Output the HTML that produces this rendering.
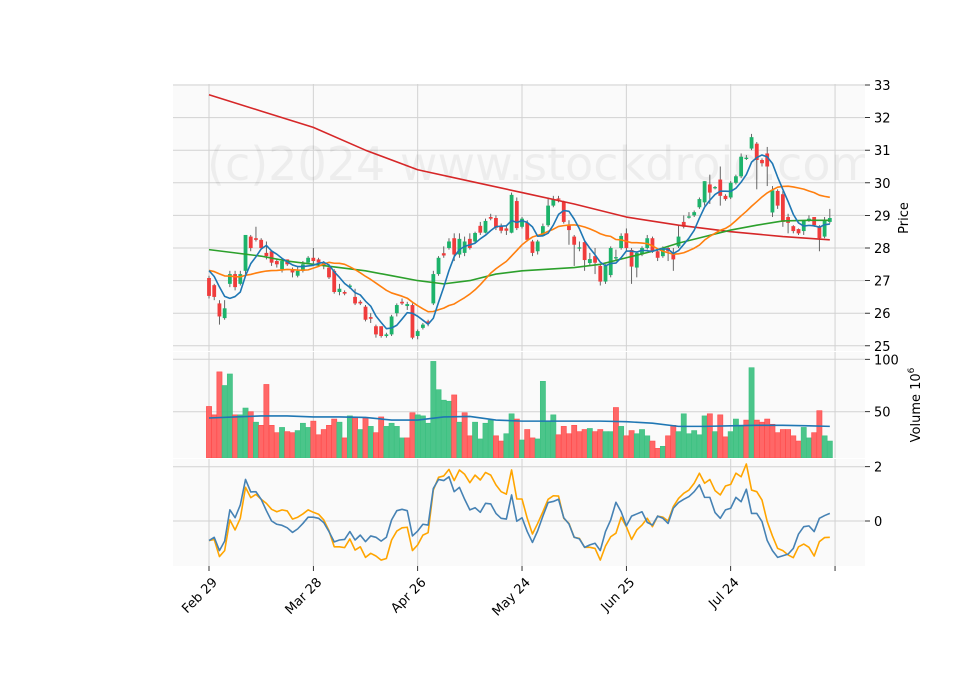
<!DOCTYPE html>
<html><head><meta charset="utf-8"><style>
html,body{margin:0;padding:0;background:#fff;}
svg{display:block;font-family:"DejaVu Sans","Liberation Sans",sans-serif;}
</style></head><body>
<svg id="chart" width="960" height="690" viewBox="0 0 960 690" xmlns="http://www.w3.org/2000/svg">
<defs><clipPath id="pclip"><rect x="173" y="84" width="692" height="267"/></clipPath>
<clipPath id="vclip"><rect x="173" y="352" width="692" height="106"/></clipPath>
<clipPath id="oclip"><rect x="173" y="459" width="692" height="107"/></clipPath></defs>
<rect x="173" y="84" width="692" height="267" fill="#fafafa"/>
<rect x="173" y="352" width="692" height="106" fill="#fafafa"/>
<rect x="173" y="459" width="692" height="107" fill="#fafafa"/>
<g id="grid"></g>
<text x="207" y="180" font-size="46" fill="#000" fill-opacity="0.05" clip-path="url(#pclip)">(c)2024 www.stockdroid.com</text>
<g id="marks"></g>
<g id="axes"></g>
<text transform="translate(908,218) rotate(-90)" text-anchor="middle" font-size="13">Price</text>
<text transform="translate(920,405) rotate(-90)" text-anchor="middle" font-size="13">Volume  10<tspan dy="-6" font-size="9">6</tspan></text>
</svg>
<script>
const dates = ["Feb 29","Mar 28","Apr 26","May 24","Jun 25","Jul 24",""];
const tickIdx = [0,20,40,60,80,100,120];
const priceTicks = [25,26,27,28,29,30,31,32,33];
const volTicks = [50,100];
const oscTicks = [0,2];
const opens = [27.08,26.86,26.3,25.85,26.9,27.2,26.9,27.3,28.35,28.3,28.25,27.85,27.9,27.6,27.35,27.65,27.35,27.15,27.3,27.55,27.7,27.65,27.55,27.4,27.3,26.65,26.65,26.8,26.5,26.35,26.2,25.88,25.6,25.6,25.3,25.35,26.0,26.35,26.22,26.25,25.3,
25.55,25.75,26.3,27.2,27.84,28.0,28.3,27.8,27.85,28.28,28.2,28.68,28.47,28.95,28.92,28.68,28.6,28.47,29.44,28.65,28.77,28.2,27.9,28.37,28.7,29.3,29.52,29.42,28.7,28.35,27.98,28.18,27.54,27.75,27.45,26.97,27.17,27.68,28.0,28.45,27.94,
27.4,27.8,28.0,28.3,27.9,27.75,28.0,27.85,28.05,28.8,28.93,29.0,29.25,29.4,29.95,29.83,30.1,29.6,29.55,30.0,30.2,30.73,31.05,31.2,30.7,30.9,29.09,29.75,29.65,28.95,28.67,28.58,28.52,28.86,28.95,28.67,28.35,28.8];
const closes = [26.53,26.5,25.9,26.15,27.2,26.8,27.2,28.4,28.0,28.25,28.0,27.75,27.55,27.5,27.6,27.5,27.25,27.3,27.5,27.7,27.6,27.55,27.45,27.1,26.65,26.75,26.6,26.85,26.3,26.3,25.8,25.83,25.35,25.3,25.35,25.9,26.25,26.3,26.28,25.25,25.45,
25.65,25.68,27.2,27.7,27.77,28.2,27.8,28.28,28.2,28.0,28.46,28.47,28.83,28.9,28.62,28.53,28.53,29.63,28.61,28.9,28.25,27.85,28.2,28.67,29.3,29.5,29.48,28.8,28.55,28.1,28.02,27.63,27.66,27.55,26.97,27.45,28.0,27.72,28.37,28.0,27.43,
27.85,28.0,28.3,27.9,27.7,28.0,27.9,27.65,28.35,28.65,28.97,29.1,29.5,30.05,29.7,29.87,29.6,29.5,30.0,30.2,30.8,30.77,31.4,30.7,30.6,30.5,29.77,29.3,28.8,28.77,28.52,28.45,28.83,28.9,28.7,28.3,28.85,28.92];
const highs = [27.15,26.9,26.4,26.4,27.3,27.3,27.3,28.4,28.4,28.65,28.3,28.2,27.9,27.65,27.7,27.65,27.4,27.45,27.6,27.75,28.0,27.7,27.6,27.5,27.35,26.9,26.7,26.9,26.75,26.4,26.25,26.0,25.65,25.6,25.4,25.95,26.3,26.45,26.35,26.3,25.5,
25.7,25.8,27.3,27.75,28.05,28.3,28.45,28.45,28.35,28.45,28.5,28.8,28.9,29.05,29.0,28.75,28.7,29.7,29.55,28.95,28.85,28.25,28.25,28.75,29.55,29.6,29.6,29.45,28.85,28.4,28.2,28.2,27.85,28.0,27.5,27.5,28.05,27.95,28.45,28.6,28.0,
27.9,28.05,28.4,28.35,27.95,28.05,28.05,28.0,28.7,29.0,29.1,29.15,29.55,30.05,30.25,29.9,30.5,29.65,30.05,30.25,30.9,30.85,31.5,31.25,30.75,31.1,29.9,29.8,29.75,29.05,28.7,28.6,28.85,29.0,28.95,28.7,28.95,29.2];
const lows = [26.45,26.4,25.65,25.8,26.8,26.7,26.85,27.2,27.9,28.2,27.95,27.65,27.45,27.4,27.25,27.45,27.1,27.1,27.25,27.5,27.5,27.45,27.35,27.05,26.6,26.55,26.55,26.75,26.25,26.25,25.75,25.7,25.25,25.25,25.25,25.3,25.9,26.25,26.1,25.2,25.2,
25.5,25.6,26.25,27.15,27.7,27.95,27.6,27.7,27.75,27.95,28.15,28.4,28.45,28.85,28.55,28.45,28.4,28.45,28.55,28.6,28.2,27.75,27.8,28.35,28.65,29.25,29.4,28.75,28.1,27.45,27.9,27.3,27.45,27.2,26.85,26.9,27.1,27.6,27.95,27.9,26.9,
27.1,27.75,27.95,27.85,27.6,27.7,27.6,27.3,28.0,28.6,28.9,28.95,29.2,29.3,29.35,29.8,29.3,29.45,29.5,29.95,30.15,30.7,31.0,29.8,30.5,29.9,28.95,29.2,28.65,28.45,28.45,28.4,28.4,28.8,28.65,27.9,28.3,28.75];
const priorCloses = [27.2,27.3,27.4,27.3,27.2,27.3,27.4,27.5,27.4,27.3,27.2,27.3,27.4,27.3,27.2,27.4,27.5,27.6,27.5];
const ma50Idx = [0,5,10,15,20,25,30,35,40,45,50,55,60,65,70,75,80,85,90,95,100,105,110,115,119];
const ma50 = [27.95,27.85,27.75,27.6,27.5,27.4,27.3,27.15,27.0,26.9,27.0,27.2,27.3,27.35,27.4,27.5,27.7,27.9,28.15,28.35,28.55,28.7,28.83,28.85,28.85];
const ma200Idx = [0,10,20,30,40,50,60,70,80,90,100,110,119];
const ma200 = [32.7,32.2,31.7,31.0,30.4,30.05,29.7,29.35,28.95,28.7,28.5,28.35,28.25];
const volumes = [55,47,88,75,86,47,47,53.5,50,40,37,76,37,30,35,31,30,32,39,35,41,28,33,37,43,40,25,46,45,33,44,36,30,45,36,39,36,25,25,49,47,46,39,98,71,61,60,66,40,49,27,40,24,39,42,27,22,29,48,43,
23,33,25,24,79,41,47,28,36,29,37,31,33,34,31,33,31,31,54,36,27,32,29,33,27,22,15,17,27,37,31,48,29,32,28,46,48,31,47,26,31,43,36,42,92,42,40,43,38,30,33,33,27,22,35,25,30,51,27,22];
const volMaIdx = [0,5,10,15,20,25,30,35,40,45,50,55,60,65,70,75,80,85,90,95,100,105,110,115,119];
const volMa = [44,45,46,46,45,45,44.5,42,42,45,45.5,42,41,41,41,41,40.5,39,36,36,36.5,37,37,36.5,36];
const oscBlue = [-0.72,-0.60,-1.09,-0.74,0.41,0.12,0.59,1.53,1.07,1.08,0.80,0.38,0,-0.12,-0.16,-0.25,-0.42,-0.29,-0.09,0.14,0.14,0.10,-0.06,-0.39,-0.77,-0.70,-0.68,-0.39,-0.70,-0.52,-0.76,-0.55,-0.60,-0.74,-0.60,0.04,0.38,0.43,0.38,-0.55,-0.37,-0.12,-0.15,1.20,1.53,1.49,1.63,1.08,1.24,0.80,0.41,0.49,0.32,0.65,0.63,0.28,0.10,0.07,0.96,-0.01,
0.12,-0.39,-0.79,-0.36,0.18,0.68,0.72,0.80,0.12,-0.11,-0.60,-0.66,-0.97,-0.88,-0.82,-1.09,-0.39,0.04,0.69,0.34,-0.18,0.18,0.26,0.34,-0.05,-0.15,0.18,0.10,-0.09,0.47,0.68,0.80,0.90,1.08,1.33,0.87,0.87,0.31,0.10,0.41,0.47,0.87,0.71,1.17,0.28,0.28,-0.02,-0.72,-1.09,-1.34,-1.28,-1.22,-1.01,-0.48,-0.21,-0.18,-0.39,0.10,0.20,0.28];
const oscOrange = [-0.72,-0.68,-1.31,-1.09,0.04,-0.33,0.10,1.24,0.86,0.98,0.80,0.65,0.43,0.34,0.41,0.37,0.07,0.14,0.26,0.41,0.32,0.25,0.04,-0.36,-0.95,-0.95,-0.98,-0.66,-1.07,-0.95,-1.34,-1.19,-1.29,-1.44,-1.38,-0.70,-0.37,-0.25,-0.23,-1.09,-0.88,-0.52,-0.43,1.14,1.61,1.66,1.90,1.49,1.88,1.72,1.41,1.69,1.51,1.79,1.69,1.33,1.08,0.99,1.88,0.81,
0.81,0.10,-0.48,-0.09,0.34,0.80,0.93,0.92,0.10,-0.09,-0.60,-0.64,-0.97,-0.97,-1.01,-1.44,-0.92,-0.58,-0.45,0.14,-0.21,-0.68,-0.33,-0.15,0.10,-0.21,0.18,0.14,0,0.53,0.83,1.02,1.14,1.39,1.76,1.39,1.53,1.12,0.96,1.29,1.35,1.76,1.63,2.10,1.14,1.08,0.77,-0.02,-0.55,-1.01,-1.09,-1.25,-1.35,-0.95,-0.85,-0.97,-1.29,-0.76,-0.61,-0.60];

const NS = "http://www.w3.org/2000/svg";
const X = i => 209 + 5.217 * i;
const YP = p => 85 + (33 - p) * 32.6;
const YV = v => 464.1 - v * 1.048;
const YO = v => 521 - v * 27.15;
function mk(tag, attrs, parent) { const e = document.createElementNS(NS, tag); for (const k in attrs) e.setAttribute(k, attrs[k]); parent.appendChild(e); return e; }
const grid = document.getElementById('grid'), marks = document.getElementById('marks'), axes = document.getElementById('axes');
const GC = "#d2d2d2";
tickIdx.forEach((ti, k) => {
  const x = X(ti);
  [[84,351],[352,458],[459,566]].forEach(r => { const l = mk('line', {x1:x, x2:x, y1:r[0], y2:r[1], stroke:GC, 'stroke-width':1}, grid);   });
  const t = mk('line', {x1:x, x2:x, y1:566, y2:571, stroke:'#000', 'stroke-width':0.8}, axes);
   
  if (dates[k]) { const tx = mk('text', {x:0, y:0, 'font-size':13, 'text-anchor':'end', transform:`translate(${x+9},${583}) rotate(-45)`}, axes); tx.textContent = dates[k];
      }
});
priceTicks.forEach(p => { const y = YP(p);
  const g = mk('line', {x1:173, x2:865, y1:y, y2:y, stroke:GC, 'stroke-width':1}, grid);  
  mk('line', {x1:865, x2:870, y1:y, y2:y, stroke:'#000', 'stroke-width':0.8}, axes);
  const t = mk('text', {x:874, y:y+5, 'font-size':13}, axes); t.textContent = p;   });
volTicks.forEach(v => { const y = YV(v);
  const g = mk('line', {x1:173, x2:865, y1:y, y2:y, stroke:GC, 'stroke-width':1}, grid);  
  mk('line', {x1:865, x2:870, y1:y, y2:y, stroke:'#000', 'stroke-width':0.8}, axes);
  const t = mk('text', {x:874, y:y+5, 'font-size':13}, axes); t.textContent = v;   });
oscTicks.forEach(v => { const y = YO(v);
  const g = mk('line', {x1:173, x2:865, y1:y, y2:y, stroke:GC, 'stroke-width':1}, grid);  
  mk('line', {x1:865, x2:870, y1:y, y2:y, stroke:'#000', 'stroke-width':0.8}, axes);
  const t = mk('text', {x:874, y:y+5, 'font-size':13}, axes); t.textContent = v;   });

const vg = mk('g', {'clip-path':'url(#vclip)'}, marks);
volumes.forEach((v, i) => { const up = i === 0 ? closes[0] >= opens[0] : closes[i] >= closes[i-1];
  const y = YV(v);
  const r = mk('rect', {x:X(i)-2.6, y:y, width:5.2, height:Math.max(0,458-y), fill: up ? '#3cc080' : '#ff5a5a', 'fill-opacity':0.92, stroke: up ? '#3cc080' : '#ff4a4a', 'stroke-width':0.6}, vg);
    });
function poly(idx, vals, yf, color, w, parent, name) {
  const pts = vals.map((v, k) => X(idx ? idx[k] : k).toFixed(2) + ',' + yf(v).toFixed(2)).join(' ');
  const p = mk('polyline', {points:pts, fill:'none', stroke:color, 'stroke-width':w, 'stroke-linejoin':'round'}, parent);
    return p; }
poly(volMaIdx, volMa, YV, '#1f77b4', 1.6, vg, 'volume-ma-line');

const pg = mk('g', {'clip-path':'url(#pclip)'}, marks);
closes.forEach((c, i) => { const o = opens[i], up = c >= o, x = X(i);
  const w = mk('line', {x1:x, x2:x, y1:YP(highs[i]), y2:YP(lows[i]), stroke:'#555', 'stroke-width':0.9}, pg);
   
  const top = YP(Math.max(o,c)), bot = YP(Math.min(o,c));
  const b = mk('rect', {x:x-1.9, y:top, width:3.8, height:Math.max(1, bot-top), fill: up ? '#1db36b' : '#f03c3c'}, pg);
    });
const all = priorCloses.concat(closes);
function sma(n) { return closes.map((c, i) => { const j = i + priorCloses.length; let s = 0; for (let k = j-n+1; k <= j; k++) s += all[k]; return s / n; }); }
poly(ma200Idx, ma200, YP, '#d62728', 1.6, pg, 'ma200-line');
poly(ma50Idx, ma50, YP, '#2ca02c', 1.6, pg, 'ma50-line');
poly(null, sma(20), YP, '#ff7f0e', 1.6, pg, 'ma20-line');
poly(null, sma(5), YP, '#1f77b4', 1.6, pg, 'ma5-line');

const og = mk('g', {'clip-path':'url(#oclip)'}, marks);
poly(null, oscOrange, YO, '#ffa500', 1.6, og, 'oscillator-signal-line');
poly(null, oscBlue, YO, '#4682b4', 1.6, og, 'oscillator-main-line');
</script>
</body></html>
